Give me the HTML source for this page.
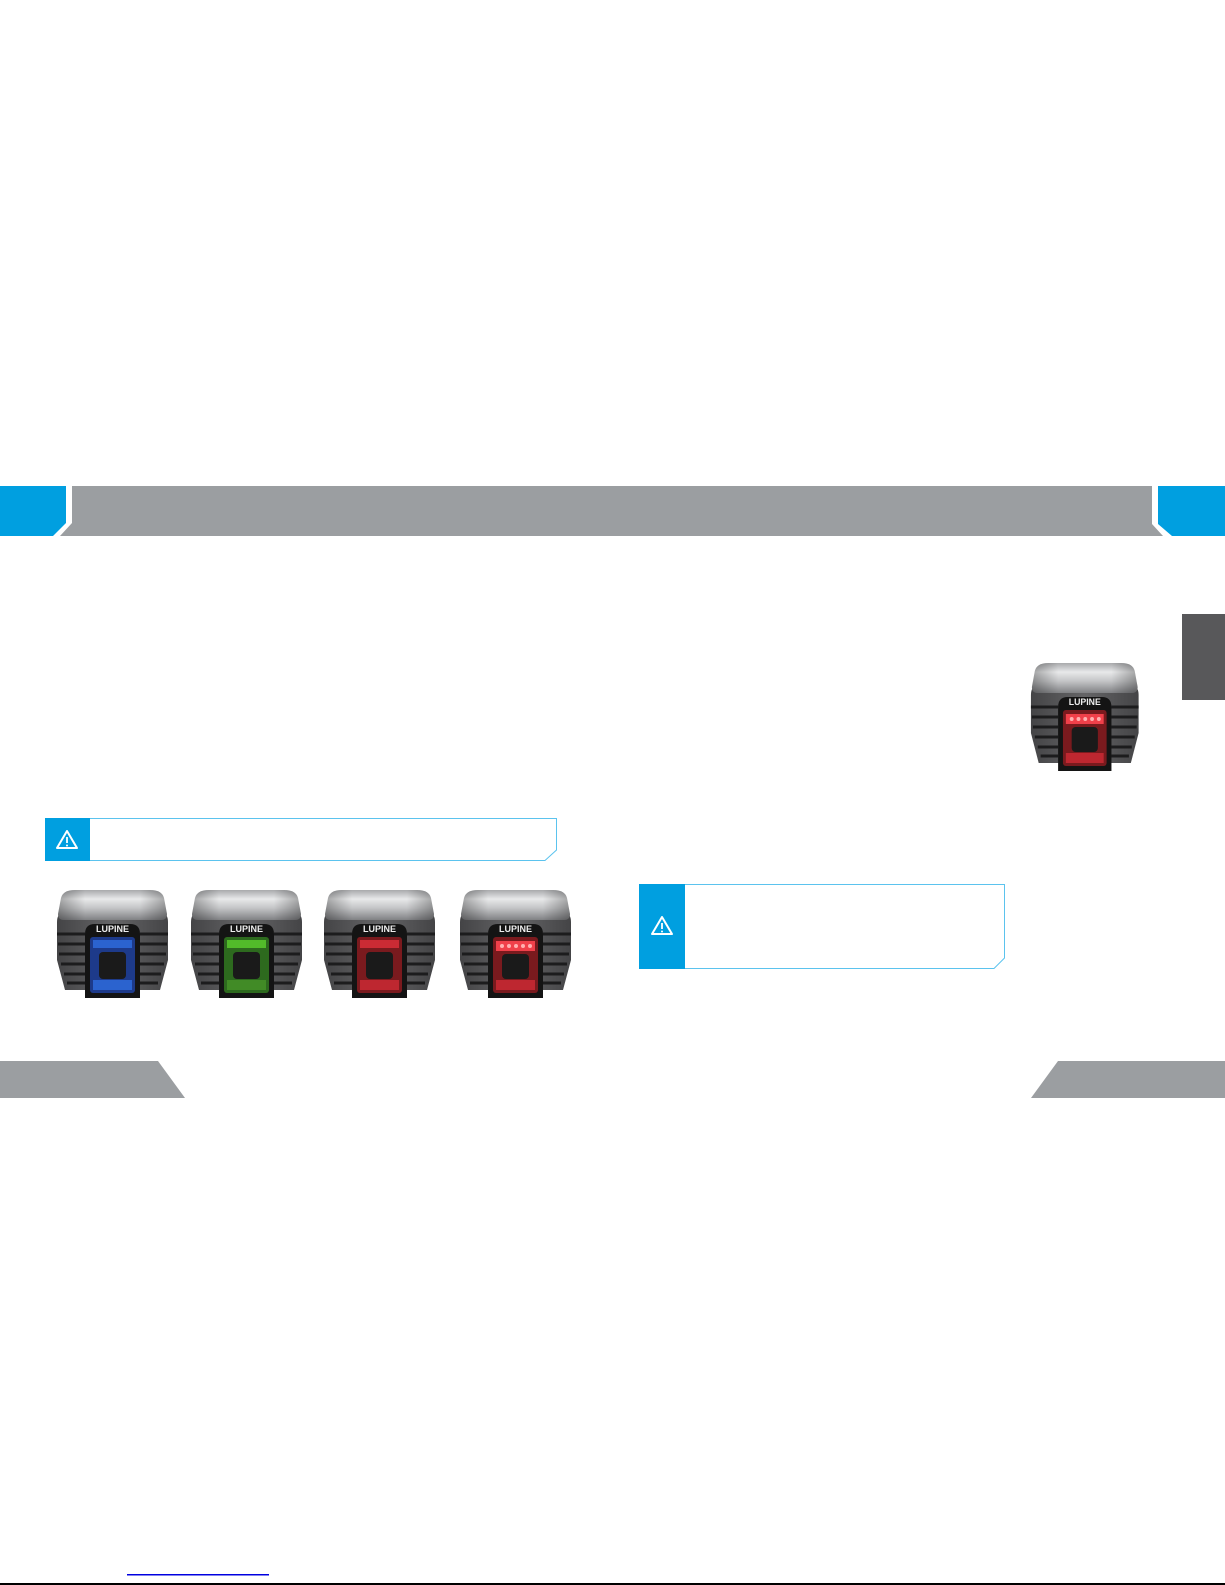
<!DOCTYPE html>
<html><head><meta charset="utf-8"><style>
html,body{margin:0;padding:0;background:#fff;width:1225px;height:1585px;overflow:hidden}
svg{display:block}
</style></head><body>
<svg width="1225" height="1585" viewBox="0 0 1225 1585" xmlns="http://www.w3.org/2000/svg">
<defs>
<linearGradient id="cap" x1="0" y1="0" x2="0" y2="1">
<stop offset="0" stop-color="#a9aaac"/><stop offset="0.3" stop-color="#e8e9ea"/><stop offset="0.6" stop-color="#c4c5c7"/><stop offset="1" stop-color="#808184"/></linearGradient>
<linearGradient id="capx" x1="0" y1="0" x2="1" y2="0">
<stop offset="0" stop-color="#000" stop-opacity="0.3"/><stop offset="0.25" stop-color="#000" stop-opacity="0"/><stop offset="0.75" stop-color="#000" stop-opacity="0"/><stop offset="1" stop-color="#000" stop-opacity="0.3"/></linearGradient>
<linearGradient id="body" x1="0" y1="0" x2="1" y2="0">
<stop offset="0" stop-color="#444446"/><stop offset="0.5" stop-color="#656567"/><stop offset="1" stop-color="#444446"/></linearGradient>
<g id="lamp">
<path d="M2 32 Q2 24 8 22 L107 22 Q113 24 113 32 L113 70 L105 100 L10 100 L2 70 Z" fill="url(#body)"/>
<g stroke="#1c1c1d" stroke-width="3">
<line x1="2" y1="44" x2="30" y2="44"/><line x1="3" y1="54" x2="30" y2="54"/><line x1="4" y1="64" x2="30" y2="64"/><line x1="6" y1="74" x2="30" y2="74"/><line x1="9" y1="84" x2="30" y2="84"/><line x1="12" y1="93" x2="30" y2="93"/>
<line x1="85" y1="44" x2="113" y2="44"/><line x1="85" y1="54" x2="112" y2="54"/><line x1="85" y1="64" x2="111" y2="64"/><line x1="85" y1="74" x2="109" y2="74"/><line x1="85" y1="84" x2="106" y2="84"/><line x1="85" y1="93" x2="103" y2="93"/>
</g>
<path d="M6 8 Q8 0 20 0 L95 0 Q107 0 109 8 L112 24 Q112 30 106 30 L9 30 Q3 30 3 24 Z" fill="url(#cap)"/>
<path d="M6 8 Q8 0 20 0 L95 0 Q107 0 109 8 L112 24 Q112 30 106 30 L9 30 Q3 30 3 24 Z" fill="url(#capx)"/>
<path d="M30 108 L30 44 Q30 34 40 34 L75 34 Q85 34 85 44 L85 108 Z" fill="#141414"/>
<text x="57.5" y="42" font-family="Liberation Sans, sans-serif" font-size="9" font-weight="bold" fill="#eee" text-anchor="middle">LUPINE</text>
</g>
</defs>

<polygon points="0,486 66,486 66,523 53,536 0,536" fill="#009fe0"/>
<polygon points="72,486 1152,486 1152,524 1163,536 60,536 72,523" fill="#9b9ea1"/>
<polygon points="1158,486 1225,486 1225,536 1172,536 1158,524" fill="#009fe0"/>

<rect x="1182" y="614" width="43" height="86" fill="#58585a"/>

<polygon points="45.5,818.5 556.5,818.5 556.5,850 545,860.5 45.5,860.5" fill="#fff" stroke="#5bc3ee" stroke-width="1"/>
<rect x="45" y="818" width="45" height="43" fill="#009fe0"/>
<g transform="translate(67,840)"><path d="M0,-9 L10,8 L-10,8 Z" fill="none" stroke="#fff" stroke-width="2" stroke-linejoin="round"/><line x1="0" y1="-3" x2="0" y2="3" stroke="#fff" stroke-width="1.8"/><circle cx="0" cy="5.5" r="1" fill="#fff"/></g>

<polygon points="639.5,884.5 1004.5,884.5 1004.5,958 994,968.5 639.5,968.5" fill="#fff" stroke="#5bc3ee" stroke-width="1"/>
<rect x="639" y="884" width="46" height="85" fill="#009fe0"/>
<g transform="translate(662,926)"><path d="M0,-9 L10,8 L-10,8 Z" fill="none" stroke="#fff" stroke-width="2" stroke-linejoin="round"/><line x1="0" y1="-3" x2="0" y2="3" stroke="#fff" stroke-width="1.8"/><circle cx="0" cy="5.5" r="1" fill="#fff"/></g>

<g transform="translate(55,890)">
<use href="#lamp"/>
<rect x="35" y="47" width="45" height="56" rx="3" fill="#1d3a8a"/>
<rect x="38" y="50" width="39" height="8" fill="#2f6ee0" opacity="0.8"/><rect x="38" y="90" width="39" height="10" fill="#2f6ee0" opacity="0.8"/>
<rect x="44" y="62" width="27" height="27" rx="4" fill="#1a1a1a"/>
</g>
<g transform="translate(189,890)">
<use href="#lamp"/>
<rect x="35" y="47" width="45" height="56" rx="3" fill="#2d6a1e"/>
<rect x="38" y="50" width="39" height="8" fill="#5bd02d" opacity="0.8"/><rect x="38" y="90" width="39" height="10" fill="#4a9a2a" opacity="0.7"/>
<rect x="44" y="62" width="27" height="27" rx="4" fill="#1a1a1a"/>
</g>
<g transform="translate(322,890)">
<use href="#lamp"/>
<rect x="35" y="47" width="45" height="56" rx="3" fill="#7a1a1e"/>
<rect x="38" y="50" width="39" height="8" fill="#e0303a" opacity="0.8"/><rect x="38" y="90" width="39" height="10" fill="#d02a34" opacity="0.8"/>
<rect x="44" y="62" width="27" height="27" rx="4" fill="#1a1a1a"/>
</g>
<g transform="translate(458,890)">
<use href="#lamp"/>
<rect x="35" y="47" width="45" height="56" rx="3" fill="#7a1a1e"/>
<rect x="38" y="51" width="39" height="10" fill="#f0404a"/>
<g fill="#ffb0b0"><circle cx="44" cy="56" r="2"/><circle cx="51" cy="56" r="2"/><circle cx="58" cy="56" r="2"/><circle cx="65" cy="56" r="2"/><circle cx="72" cy="56" r="2"/></g>
<rect x="38" y="90" width="39" height="10" fill="#d02a34" opacity="0.8"/>
<rect x="44" y="64" width="27" height="25" rx="4" fill="#1a1a1a"/>
</g>
<g transform="translate(1029,663) scale(0.97,1)">
<use href="#lamp"/>
<rect x="35" y="47" width="45" height="56" rx="3" fill="#7a1a1e"/>
<rect x="38" y="51" width="39" height="10" fill="#f0404a"/>
<g fill="#ffb0b0"><circle cx="44" cy="56" r="2"/><circle cx="51" cy="56" r="2"/><circle cx="58" cy="56" r="2"/><circle cx="65" cy="56" r="2"/><circle cx="72" cy="56" r="2"/></g>
<rect x="38" y="90" width="39" height="10" fill="#d02a34" opacity="0.8"/>
<rect x="44" y="64" width="27" height="25" rx="4" fill="#1a1a1a"/>
</g>

<polygon points="0,1061 158,1061 185,1098 0,1098" fill="#9b9ea1"/>
<polygon points="1058,1061 1225,1061 1225,1098 1031,1098" fill="#9b9ea1"/>

<rect x="127" y="1574" width="142" height="1.5" fill="#0000e0"/>
<rect x="0" y="1583" width="1225" height="2" fill="#000"/>
</svg>
</body></html>
